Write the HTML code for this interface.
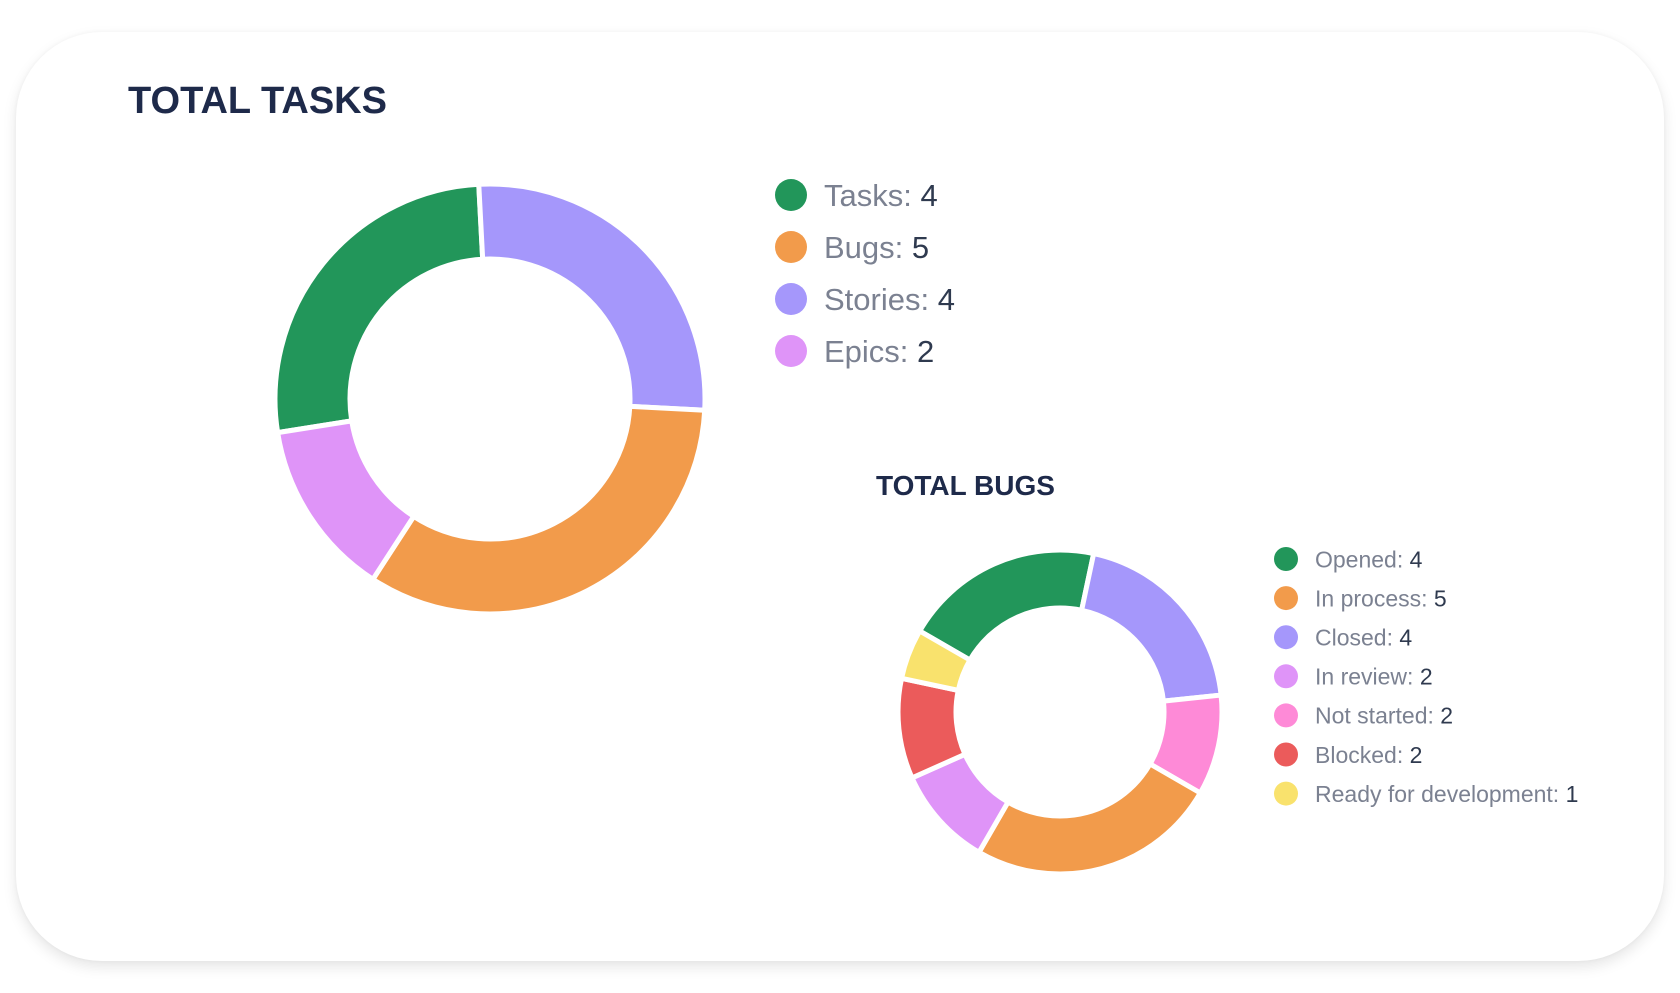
<!DOCTYPE html>
<html><head><meta charset="utf-8"><style>
html,body{margin:0;padding:0;width:1680px;height:993px;background:#fff;overflow:hidden;font-family:"Liberation Sans",sans-serif;}
#card{position:absolute;left:16px;top:32px;width:1648px;height:929px;border-radius:86px;background:#fff;box-shadow:0 6px 14px rgba(0,0,0,0.10),0 0 4px rgba(0,0,0,0.04);}
svg{position:absolute;left:0;top:0;}
</style></head><body>
<div id="card"></div>
<svg id="chart" width="1680" height="993"></svg>
<script>
const taskLabels=["Tasks","Bugs","Stories","Epics"];
const taskValues=[4,5,4,2];
const taskColors=["#22965a","#f29b4b","#a597fb","#df94f8"];
const taskOrder=[0,2,1,3];
const bugLabels=["Opened","In process","Closed","In review","Not started","Blocked","Ready for development"];
const bugValues=[4,5,4,2,2,2,1];
const bugColors=["#22965a","#f29b4b","#a597fb","#df94f8","#fe8ad7","#eb5b5b","#f9e26d"];
const bugOrder=[0,2,4,1,3,5,6];

const NS="http://www.w3.org/2000/svg";
const svg=document.getElementById('chart');
function mk(t,a){const e=document.createElementNS(NS,t);for(const k in a)e.setAttribute(k,a[k]);svg.appendChild(e);return e;}
function pt(cx,cy,r,deg){const a=(deg-90)*Math.PI/180;return [cx+r*Math.cos(a),cy+r*Math.sin(a)];}
function donut(cx,cy,ro,ri,vals,cols,order,start,name){
  const tot=vals.reduce((a,b)=>a+b,0);let ang=start;
  order.forEach(i=>{
    const sw=vals[i]/tot*360;const a0=ang,a1=ang+sw;ang=a1;
    const p0=pt(cx,cy,ro,a0),p1=pt(cx,cy,ro,a1),q1=pt(cx,cy,ri,a1),q0=pt(cx,cy,ri,a0);
    const lg=sw>180?1:0;
    const d=`M${p0[0]},${p0[1]}A${ro},${ro} 0 ${lg} 1 ${p1[0]},${p1[1]}L${q1[0]},${q1[1]}A${ri},${ri} 0 ${lg} 0 ${q0[0]},${q0[1]}Z`;
    const e=mk('path',{d:d,fill:cols[i],stroke:'#fff','stroke-width':5,'stroke-linejoin':'miter'});
    
    
  });
}
function legend(x,y0,dy,r,fs,labels,vals,cols,name){
  labels.forEach((l,i)=>{
    const y=y0+i*dy;
    const c=mk('circle',{cx:x,cy:y,r:r,fill:cols[i]});
    
    
    const t=mk('text',{x:x+r+17,y:y+fs*0.36,'font-size':fs,fill:'#7b8191'});
    
    
    t.textContent=l+': ';
    const s=document.createElementNS(NS,'tspan');s.setAttribute('fill','#2f3a4f');s.textContent=vals[i];t.appendChild(s);
  });
}
let t1=mk('text',{x:128,y:113,'font-size':38,'font-weight':'bold',fill:'#1e2a4a'});
t1.textContent='TOTAL TASKS';
let t2=mk('text',{x:876,y:495,'font-size':28,'font-weight':'bold',fill:'#1e2a4a'});
t2.textContent='TOTAL BUGS';
donut(490,399,215,140,taskValues,taskColors,taskOrder,-99,'tasks');
donut(1060,712,162,104,bugValues,bugColors,bugOrder,-60,'bugs');
legend(791,195,52,16,31,taskLabels,taskValues,taskColors,'tasks');
legend(1286,559,39.1,12,23,bugLabels,bugValues,bugColors,'bugs');
</script>
</body></html>
